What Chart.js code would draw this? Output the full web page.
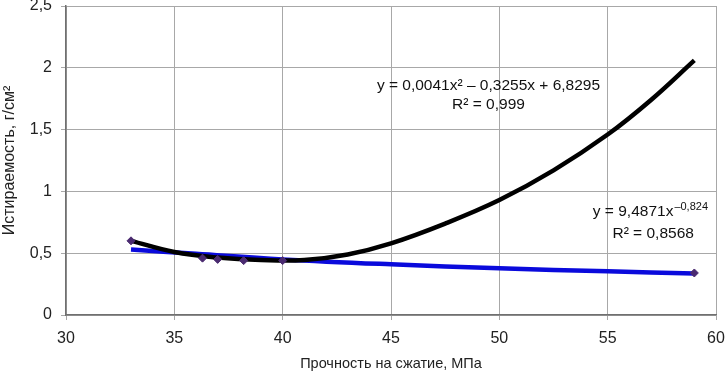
<!DOCTYPE html>
<html>
<head>
<meta charset="utf-8">
<script src="https://cdn.jsdelivr.net/npm/chart.js@4.4.1/dist/chart.umd.min.js"></script>
<style>
  html, body { margin: 0; padding: 0; background: #fff; }
  #wrap { width: 728px; height: 376px; }
</style>
</head>
<body>
<div id="wrap"><canvas id="c"></canvas></div>
<script>
// измеренные точки
const strengthX = [33, 36.3, 37.0, 38.2, 40.0, 59];
const abrasionY = [0.60, 0.46, 0.45, 0.44, 0.44, 0.34];

// полиномиальный тренд
const polyX = [33, 35, 37, 39, 41, 43, 45, 47.5, 50, 52.5, 55, 57, 59];
const polyY = [0.60, 0.51, 0.465, 0.445, 0.445, 0.49, 0.58, 0.74, 0.93, 1.17, 1.46, 1.74, 2.06];

// степенной тренд
const powX = [33, 36, 40, 45, 50, 55, 59];
const powY = [0.53, 0.495, 0.45, 0.41, 0.378, 0.353, 0.335];

const xTicks = [30, 35, 40, 45, 50, 55, 60];
const yTicks = [0, 0.5, 1, 1.5, 2, 2.5];

const toPts = (xs, ys) => xs.map((x, i) => ({x: x, y: ys[i]}));
const fmt = v => String(v).replace('.', ',');
const FAM = '"Liberation Sans", Arial, sans-serif';

// подписи уравнений
const labelsPlugin = {
  id: 'eqLabels',
  afterDatasetsDraw(chart) {
    const {ctx, scales: {x, y}} = chart;
    ctx.save();
    ctx.fillStyle = '#111';
    ctx.textBaseline = 'middle';
    ctx.textAlign = 'center';
    ctx.font = '15.5px ' + FAM;
    ctx.fillText('y = 0,0041x² – 0,3255x + 6,8295', x.getPixelForValue(49.5), y.getPixelForValue(1.855));
    ctx.fillText('R² = 0,999', x.getPixelForValue(49.5), y.getPixelForValue(1.705));

    // степенная: основание + верхний индекс
    const base = 'y = 9,4871x';
    const sup = '–0,824';
    ctx.font = '15.5px ' + FAM;
    const wb = ctx.measureText(base).width;
    ctx.font = '11px ' + FAM;
    const ws = ctx.measureText(sup).width;
    const cx = x.getPixelForValue(56.95), cy = y.getPixelForValue(0.835);
    const left = cx - (wb + ws) / 2;
    ctx.textAlign = 'left';
    ctx.font = '15.5px ' + FAM;
    ctx.fillText(base, left, cy);
    ctx.font = '11px ' + FAM;
    ctx.fillText(sup, left + wb + 1, cy - 5);
    ctx.textAlign = 'center';
    ctx.font = '15.5px ' + FAM;
    ctx.fillText('R² = 0,8568', x.getPixelForValue(57.1), y.getPixelForValue(0.66));
    ctx.restore();
  }
};

new Chart(document.getElementById('c'), {
  type: 'scatter',
  data: {
    datasets: [
      {
        label: 'Данные',
        data: toPts(strengthX, abrasionY),
        pointStyle: 'rectRot',
        pointRadius: 4,
        backgroundColor: '#4a2a70',
        borderColor: '#4a2a70',
        showLine: false
      },
      {
        label: 'Полином',
        data: toPts(polyX, polyY),
        showLine: true,
        borderColor: '#000',
        borderWidth: 4.5,
        pointRadius: 0,
        tension: 0.4
      },
      {
        label: 'Степенная',
        data: toPts(powX, powY),
        showLine: true,
        borderColor: '#0a0adc',
        borderWidth: 4.5,
        pointRadius: 0,
        tension: 0.4
      }
    ]
  },
  options: {
    responsive: true,
    maintainAspectRatio: false,
    animation: false,
    layout: { padding: { top: 6, right: 12, left: 0, bottom: 0 } },
    plugins: {
      legend: { display: false },
      tooltip: { enabled: false }
    },
    scales: {
      x: {
        type: 'linear',
        min: 30, max: 60,
        afterBuildTicks: s => { s.ticks = xTicks.map(v => ({value: v})); },
        afterFit: s => { s.height = 61; s.paddingRight = 0; s.paddingLeft = 0; },
        ticks: {
          color: '#222',
          font: { size: 16, family: FAM },
          padding: 9,
          maxRotation: 0
        },
        grid: { color: '#a8a8a8', lineWidth: 1, tickLength: 5 },
        border: { color: '#707070', width: 1.5 },
        title: {
          display: true,
          text: 'Прочность на сжатие, МПа',
          color: '#222',
          font: { size: 14.5, family: FAM },
          padding: { top: 0, bottom: 3 }
        }
      },
      y: {
        type: 'linear',
        min: 0, max: 2.5,
        afterBuildTicks: s => { s.ticks = yTicks.map(v => ({value: v})); },
        afterFit: s => { s.width = 66; s.paddingTop = 0; s.paddingBottom = 0; },
        ticks: {
          color: '#222',
          font: { size: 16, family: FAM },
          padding: 9,
          callback: v => fmt(v)
        },
        grid: { color: '#a8a8a8', lineWidth: 1, tickLength: 5 },
        border: { color: '#707070', width: 1.5 },
        title: {
          display: true,
          text: 'Истираемость, г/см²',
          color: '#222',
          font: { size: 16, family: FAM },
          padding: { top: 0, bottom: 0 }
        }
      }
    }
  },
  plugins: [labelsPlugin]
});
</script>
</body>
</html>
